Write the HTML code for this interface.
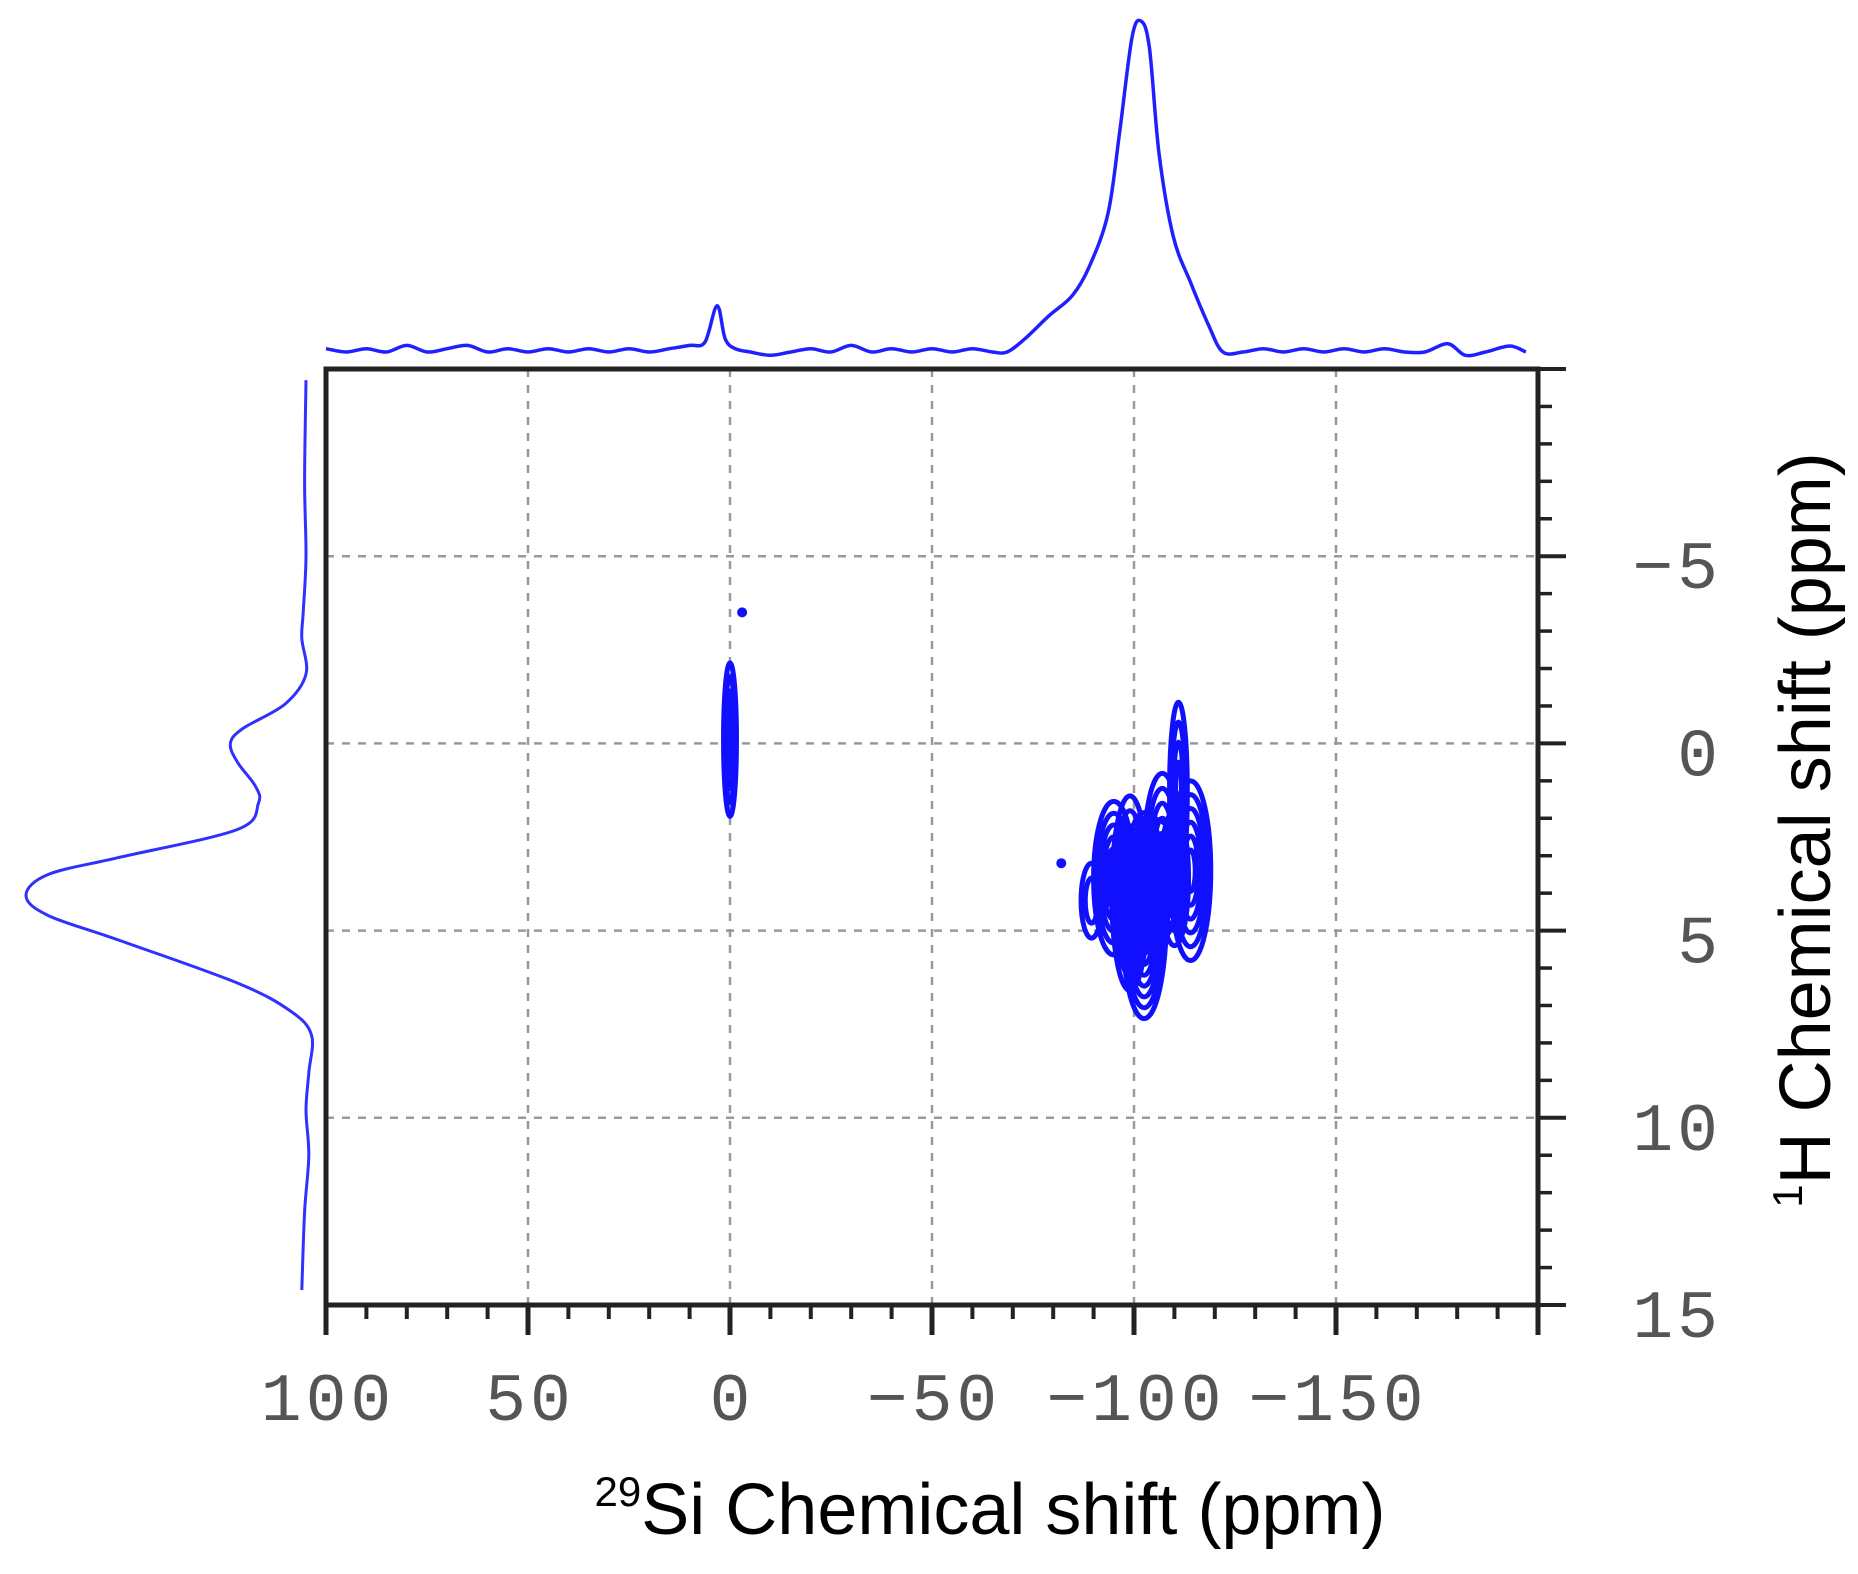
<!DOCTYPE html>
<html><head><meta charset="utf-8"><style>
html,body{margin:0;padding:0;background:#fff;}
svg{display:block;}
.tk{font-family:"Liberation Mono",monospace;font-size:68px;fill:#555;letter-spacing:4px;}
.ttl{font-family:"Liberation Sans",sans-serif;font-size:72px;fill:#000;}
</style></head><body>
<svg id="chart" width="1858" height="1574" viewBox="0 0 1858 1574" xmlns="http://www.w3.org/2000/svg">
<g id="grid"></g>
<g id="contours"></g>
<g id="axes"></g>
<g id="proj"></g>
<text class="ttl" x="990" y="1534" text-anchor="middle"><tspan font-size="42" dy="-28">29</tspan><tspan dy="28">Si Chemical shift (ppm)</tspan></text>
<text class="ttl" transform="translate(1830,830) rotate(-90)" text-anchor="middle"><tspan font-size="42" dy="-28">1</tspan><tspan dy="28">H Chemical shift (ppm)</tspan></text>
</svg>
<script>
// axis ranges
const xTickVals = [100, 50, 0, -50, -100, -150];
const xTickLabels = ["100", "50", "0", "\u221250", "\u2212100", "\u2212150"];
const yTickVals = [-5, 0, 5, 10, 15];
const yTickLabels = ["\u22125", "0", "5", "10", "15"];
// top projection (29Si): ppm and intensity (relative to max=1)
const topPpm = [100,95,90,85,80,75,70,65,60,55,50,45,40,35,30,25,20,15,10,6.2,3.2,1.2,-1.3,-5,-10,-15,-20,-25,-30,-35,-40,-45,-50,-55,-60,-65,-68.6,-73,-79,-84.7,-89,-93.6,-96.5,-99.5,-101.7,-103.8,-106.2,-109.7,-114,-118.5,-122,-127,-132,-137,-142,-147,-152,-157,-162,-167,-172,-177.7,-182,-187,-193,-197];
const topInt = [0.01,0.0,0.01,0.0,0.02,0.0,0.01,0.02,0.0,0.01,0.0,0.01,0.0,0.01,0.0,0.01,0.0,0.01,0.02,0.03,0.14,0.04,0.01,0.0,-0.01,0.0,0.01,0.0,0.02,0.0,0.01,0.0,0.01,0.0,0.01,0.0,0.0,0.04,0.11,0.17,0.26,0.42,0.67,0.95,1.0,0.92,0.6,0.35,0.21,0.08,0.0,0.0,0.01,0.0,0.01,0.0,0.01,0.0,0.01,0.0,0.0,0.025,-0.01,0.0,0.018,0.0];
// left projection (1H): ppm and intensity
const leftPpm = [-9.7,-7,-5,-3.5,-2.8,-1.85,-1.05,-0.4,0,0.5,1.15,1.6,2.3,3.05,3.5,4.06,4.6,5.25,6.4,7.15,7.8,8.8,9.8,11,12.5,14.6];
const leftInt = [0,0.005,0.0,0.01,0.015,0,0.075,0.225,0.27,0.245,0.18,0.17,0.245,0.67,0.92,1.0,0.92,0.67,0.245,0.055,-0.02,-0.01,0,-0.01,0.005,0.015];
// contour peaks: Si center, H center, Si half-width, H half-width (ppm)
const peakSi = [0, -102.5, -95, -114, -111, -89.5, -104, -99, -107, -110];
const peakH  = [-0.1, 4.6, 3.6, 3.4, 1.3, 4.2, 3.6, 4.0, 3.0, 3.6];
const peakSiW = [1.6, 5.5, 5.0, 5.0, 2.2, 2.6, 9, 4.5, 4.5, 3.5];
const peakHW  = [2.05, 2.75, 2.05, 2.4, 2.4, 1.0, 1.6, 2.6, 2.2, 1.8];
const peakLevels = [5, 9, 6, 6, 4, 2, 4, 6, 5, 4];
// isolated dots
const dotSi = [-3, -82];
const dotH = [-3.5, 3.2];

const NS="http://www.w3.org/2000/svg";
const L=326,R=1538,T=369,B=1305;
const X=v=>L+(100-v)*(R-L)/300;
const Y=v=>T+(v+10)*(B-T)/25;
function mk(tag,attrs,parent){const e=document.createElementNS(NS,tag);for(const k in attrs)e.setAttribute(k,attrs[k]);parent.appendChild(e);return e;}
function smooth(pts){let d='M'+pts[0][0].toFixed(1)+','+pts[0][1].toFixed(1);
for(let i=0;i<pts.length-1;i++){const p0=pts[Math.max(0,i-1)],p1=pts[i],p2=pts[i+1],p3=pts[Math.min(pts.length-1,i+2)];
const c1=[p1[0]+(p2[0]-p0[0])/6,p1[1]+(p2[1]-p0[1])/6],c2=[p2[0]-(p3[0]-p1[0])/6,p2[1]-(p3[1]-p1[1])/6];
d+=' C'+c1[0].toFixed(1)+','+c1[1].toFixed(1)+' '+c2[0].toFixed(1)+','+c2[1].toFixed(1)+' '+p2[0].toFixed(1)+','+p2[1].toFixed(1);}
return d;}
const grid=document.getElementById('grid'),axes=document.getElementById('axes'),cont=document.getElementById('contours'),proj=document.getElementById('proj');
xTickVals.forEach(v=>{if(v===100)return;const l=mk('line',{x1:X(v),x2:X(v),y1:T,y2:B,stroke:'#999','stroke-width':2.5,'stroke-dasharray':'8 8'},grid);

});
yTickVals.forEach(v=>{if(v===15)return;const l=mk('line',{x1:L,x2:R,y1:Y(v),y2:Y(v),stroke:'#999','stroke-width':2.5,'stroke-dasharray':'8 8'},grid);

});
// contours
peakSi.forEach((s,i)=>{for(let k=0;k<peakLevels[i];k++){const f=1-k/(peakLevels[i]+0.5);
const e=mk('ellipse',{cx:X(s),cy:Y(peakH[i]),rx:Math.max(2,peakSiW[i]*f*(R-L)/300),ry:peakHW[i]*f*(B-T)/25,fill:'none',stroke:'#1010ff','stroke-width':5},cont);

}});
dotSi.forEach((s,i)=>{const d=mk('circle',{cx:X(s),cy:Y(dotH[i]),r:5,fill:'#1010ff'},cont);

});
// frame
const fr=mk('rect',{x:L,y:T,width:R-L,height:B-T,fill:'none',stroke:'#222','stroke-width':5},axes);


for(let v=100;v>=-200;v-=10){const maj=v%50===0;mk('line',{x1:X(v),x2:X(v),y1:B,y2:B+(maj?30:14),stroke:'#222','stroke-width':maj?5:4},axes);}
for(let v=-10;v<=15;v+=1){const maj=v%5===0;mk('line',{x1:R,x2:R+(maj?28:14),y1:Y(v),y2:Y(v),stroke:'#222','stroke-width':maj?4:3.5},axes);}
xTickVals.forEach((v,i)=>{const t=mk('text',{x:X(v)+2,y:1420,'text-anchor':'middle','class':'tk'},axes);t.textContent=xTickLabels[i];

});
yTickVals.forEach((v,i)=>{const t=mk('text',{x:1722,y:Y(v)+32,'text-anchor':'end','class':'tk'},axes);t.textContent=yTickLabels[i];

});
// top projection
const tb=352,th=331;
const tpPts=topPpm.map((p,i)=>[X(p),tb-topInt[i]*th]);
const tp=mk('path',{d:smooth(tpPts),fill:'none',stroke:'#2020ff','stroke-width':3.5,'stroke-linejoin':'round'},proj);


// left projection
const lb=306,lw=280;
const lpPts=leftPpm.map((p,i)=>[lb-leftInt[i]*lw,Y(p)]);
const lp=mk('path',{d:smooth(lpPts),fill:'none',stroke:'#3030ff','stroke-width':3,'stroke-linejoin':'round'},proj);


</script>
</body></html>
